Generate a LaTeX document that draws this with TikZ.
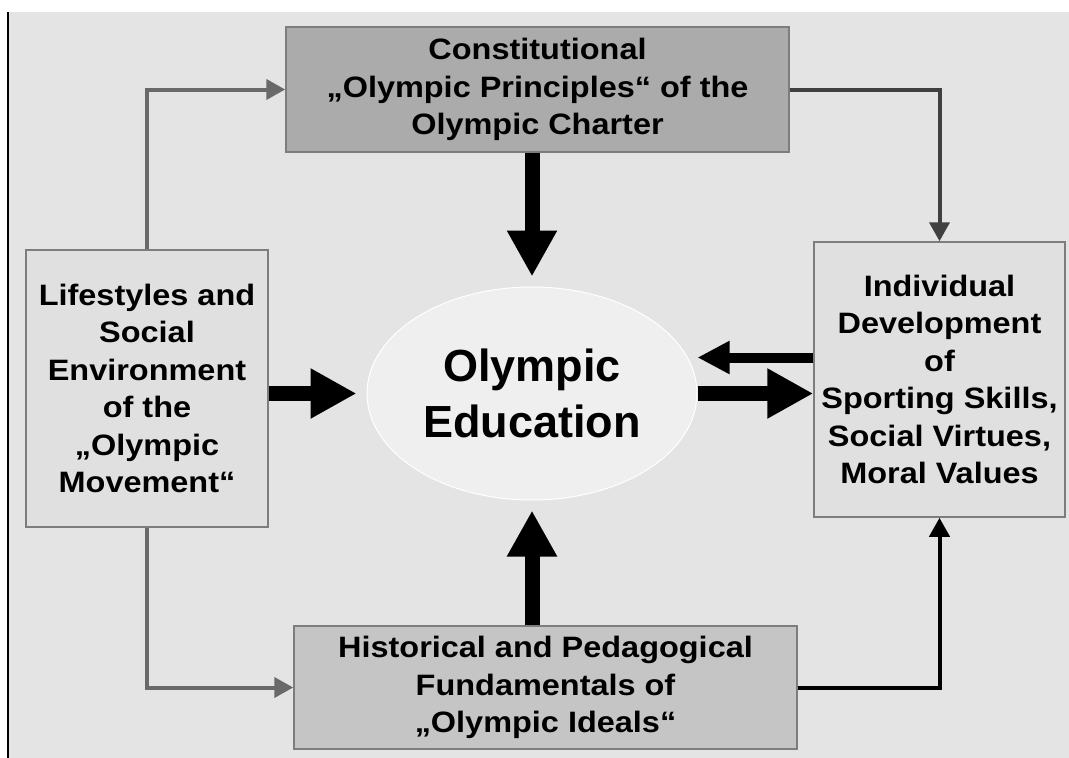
\documentclass[tikz,border=0pt]{standalone}
\usepackage{fontspec}
\setmainfont{Liberation Sans}
\newfontfamily\boxsans[FakeStretch=1.1]{Liberation Sans}
\usetikzlibrary{arrows.meta,shapes.geometric}
\definecolor{panel}{RGB}{228,228,228}
\definecolor{boxdark}{RGB}{171,171,171}
\definecolor{boxmid}{RGB}{197,197,197}
\definecolor{boxlight}{RGB}{224,224,224}
\definecolor{boxline}{RGB}{125,125,125}
\definecolor{ellfill}{RGB}{239,239,239}
\definecolor{linkgray}{RGB}{105,105,105}
\definecolor{linkdark}{RGB}{64,64,64}
\newcommand{\boxfont}{\boxsans\bfseries\fontsize{29.5}{37.5}\selectfont}
\tikzset{
  olybox/.style={draw=boxline,line width=1.5pt,align=center,inner sep=0pt,font=\boxfont},
  link/.style={line width=4pt,-{Triangle[length=19pt,width=20pt]}},
  block/.style={line width=15pt,-{Triangle[length=46pt,width=47pt]}},
  slimblock/.style={line width=10pt,-{Triangle[length=32pt,width=31pt]}}
}
\begin{document}
\begin{tikzpicture}[x=1pt,y=-1pt]
\useasboundingbox (0,0) rectangle (1069,758);
\fill[panel] (8,12) rectangle (1069,758);
\draw[line width=2pt] (8,12) -- (8,758);
% boxes
\node[olybox,fill=boxdark,minimum width=503pt,minimum height=125pt] (charter) at (537.5,89.5)
  {Constitutional\\„Olympic Principles“ of the\\Olympic Charter};
\node[olybox,fill=boxlight,minimum width=242pt,minimum height=277pt] (lifestyle) at (147,388.5)
  {Lifestyles and\\Social\\Environment\\of the\\„Olympic\\Movement“};
\node[olybox,fill=boxlight,minimum width=251pt,minimum height=275pt] (develop) at (939.5,379.5)
  {Individual\\Development\\of\\Sporting Skills,\\Social Virtues,\\Moral Values};
\node[olybox,fill=boxmid,minimum width=503pt,minimum height=123pt] (ideals) at (545.5,687.5)
  {Historical and Pedagogical\\Fundamentals of\\„Olympic Ideals“};
\node[ellipse,draw=white,line width=1pt,fill=ellfill,minimum width=330pt,minimum height=213pt,
  inner sep=0pt,align=center,font=\bfseries\fontsize{45}{56}\selectfont] (edu) at (532,393.5)
  {Olympic\\Education};
% thin connectors
\draw[link,linkgray] (lifestyle.north) |- (charter.west);
\draw[link,linkdark] (charter.east) -| (develop.north);
\draw[link,linkgray] (lifestyle.south) |- (ideals.west);
\draw[link,black] (ideals.east) -| (develop.south);
% thick arrows
\path (edu.east) ++(0,-36) coordinate (backtip);
\draw[block,shorten >=10pt] (edu.north |- charter.south) -- (edu.north);
\draw[block,shorten >=10pt] (edu.south |- ideals.north) -- (edu.south);
\draw[block,shorten >=10pt] (lifestyle.east |- edu.west) -- (edu.west);
\draw[block] (edu.east) -- (develop.west |- edu.east);
\draw[slimblock] (backtip -| develop.west) -- (backtip);
\end{tikzpicture}
\end{document}
